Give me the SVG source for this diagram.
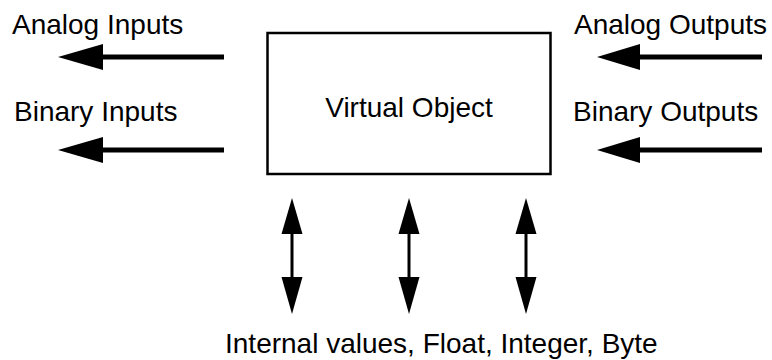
<svg xmlns="http://www.w3.org/2000/svg" width="772" height="360" viewBox="0 0 772 360">
<style>
text{font-family:"Liberation Sans",Arial,sans-serif;font-size:28px;fill:#000}
.h{stroke:#000;stroke-width:5;fill:none}
.v{stroke:#000;stroke-width:3;fill:none}
.hd{fill:#000;stroke:none}
</style>
<rect width="772" height="360" fill="#fff"/>
<g id="virtual-object">
<rect x="267.5" y="33" width="283" height="141" fill="#fff" stroke="#000" stroke-width="2.5"/>
<text x="409" y="117" text-anchor="middle">Virtual Object</text>
</g>
<g id="analog-inputs"><text x="12" y="34">Analog Inputs</text></g>
<g id="binary-inputs"><text x="14" y="121">Binary Inputs</text></g>
<g id="analog-outputs"><text x="574" y="34">Analog Outputs</text></g>
<g id="binary-outputs"><text x="573" y="121">Binary Outputs</text></g>
<g id="internal-values"><text x="225" y="353">Internal values, Float, Integer, Byte</text></g>
<g id="connectors">
<line class="h" x1="100" y1="57" x2="224" y2="57"/>
<polygon class="hd" points="58,57 103,44 103,70"/>
<line class="h" x1="100" y1="150" x2="224" y2="150"/>
<polygon class="hd" points="58,150 103,137 103,163"/>
<line class="h" x1="637" y1="57" x2="762" y2="57"/>
<polygon class="hd" points="597,57 640,44 640,70"/>
<line class="h" x1="637" y1="150" x2="762" y2="150"/>
<polygon class="hd" points="597,150 640,137 640,163"/>
<line class="v" x1="292" y1="230" x2="292" y2="280"/>
<polygon class="hd" points="292,198 281.5,234 302.5,234"/>
<polygon class="hd" points="292,314 281.5,277 302.5,277"/>
<line class="v" x1="409" y1="230" x2="409" y2="280"/>
<polygon class="hd" points="409,198 398.5,234 419.5,234"/>
<polygon class="hd" points="409,314 398.5,277 419.5,277"/>
<line class="v" x1="526" y1="230" x2="526" y2="280"/>
<polygon class="hd" points="526,198 515.5,234 536.5,234"/>
<polygon class="hd" points="526,314 515.5,277 536.5,277"/>
</g>
</svg>
